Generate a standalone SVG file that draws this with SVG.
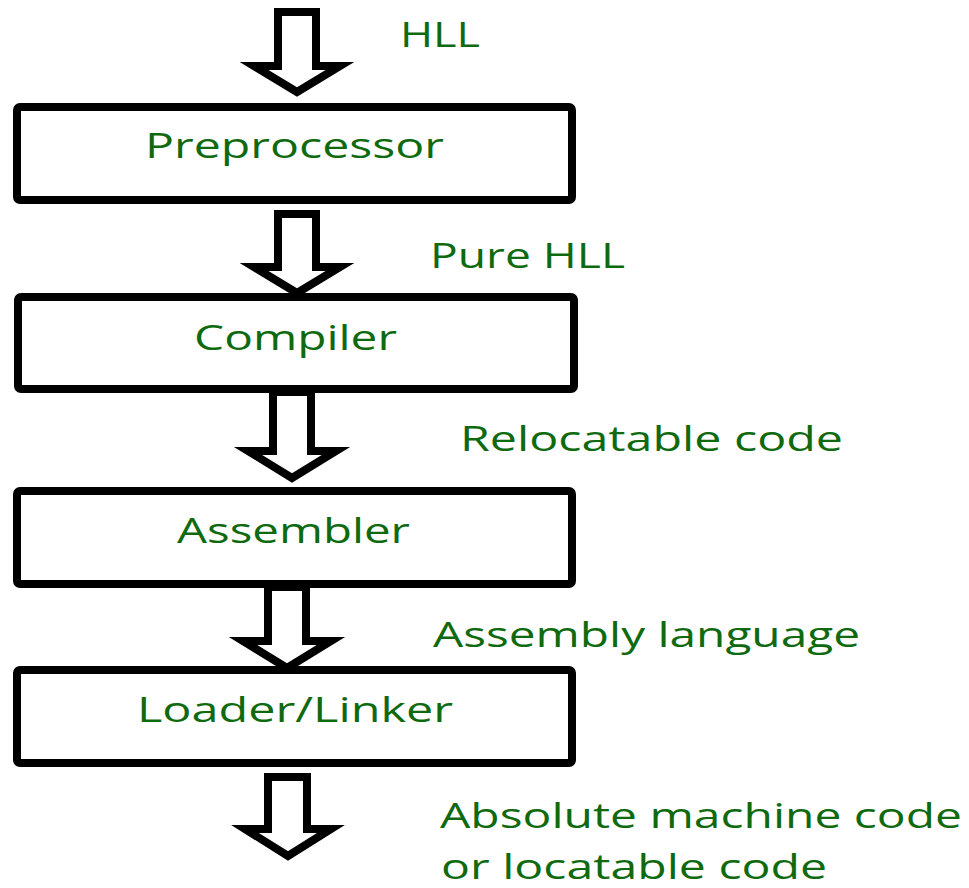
<svg xmlns="http://www.w3.org/2000/svg" width="969" height="888" viewBox="0 0 969 888">
<style>
.box{fill:#fff;stroke:#000;stroke-width:8}
.arr{fill:#fff;stroke:#000;stroke-width:8;stroke-linejoin:miter;stroke-miterlimit:10}
.t{font-family:"Open Sans","Noto Sans","Liberation Sans",sans-serif;font-size:34px;fill:#0f6a0f}
</style>
<rect width="969" height="888" fill="#fff"/>
<g id="connectors">
<polygon class="arr" points="278,12 316,12 316,66 340,66 297,92 254,66 278,66"/>
<polygon class="arr" points="278,214 316,214 316,267 340,267 297,293 254,267 278,267"/>
<polygon class="arr" points="273,392 311,392 311,451 336,451 292,478 248,451 273,451"/>
<polygon class="arr" points="268,587 306,587 306,641 331,641 287,668 243,641 268,641"/>
<polygon class="arr" points="268,777 307,777 307,829 331,829 288,856 245,829 268,829"/>
</g>
<g id="label-hll"><text class="t" x="400" y="47" textLength="80" lengthAdjust="spacingAndGlyphs">HLL</text></g>
<g id="preprocessor">
<rect class="box" x="17" y="107" width="555" height="93" rx="3"/>
<text class="t" x="145" y="158" textLength="299" lengthAdjust="spacingAndGlyphs">Preprocessor</text>
</g>
<g id="label-purehll"><text class="t" x="430" y="268" textLength="195" lengthAdjust="spacingAndGlyphs">Pure HLL</text></g>
<g id="compiler">
<rect class="box" x="18" y="297" width="556" height="92" rx="3"/>
<text class="t" x="194" y="350" textLength="203" lengthAdjust="spacingAndGlyphs">Compiler</text>
</g>
<g id="label-relocatable"><text class="t" x="460" y="451" textLength="383" lengthAdjust="spacingAndGlyphs">Relocatable code</text></g>
<g id="assembler">
<rect class="box" x="17" y="491" width="555" height="93" rx="3"/>
<text class="t" x="177" y="543" textLength="233" lengthAdjust="spacingAndGlyphs">Assembler</text>
</g>
<g id="label-assembly"><text class="t" x="433" y="647" textLength="427" lengthAdjust="spacingAndGlyphs">Assembly language</text></g>
<g id="loader-linker">
<rect class="box" x="17" y="670" width="555" height="93" rx="3"/>
<text class="t" x="137" y="722" textLength="316" lengthAdjust="spacingAndGlyphs">Loader/Linker</text>
</g>
<g id="label-output">
<text class="t" x="440" y="828" textLength="522" lengthAdjust="spacingAndGlyphs">Absolute machine code</text>
<text class="t" x="441" y="879" textLength="386" lengthAdjust="spacingAndGlyphs">or locatable code</text>
</g>
</svg>
